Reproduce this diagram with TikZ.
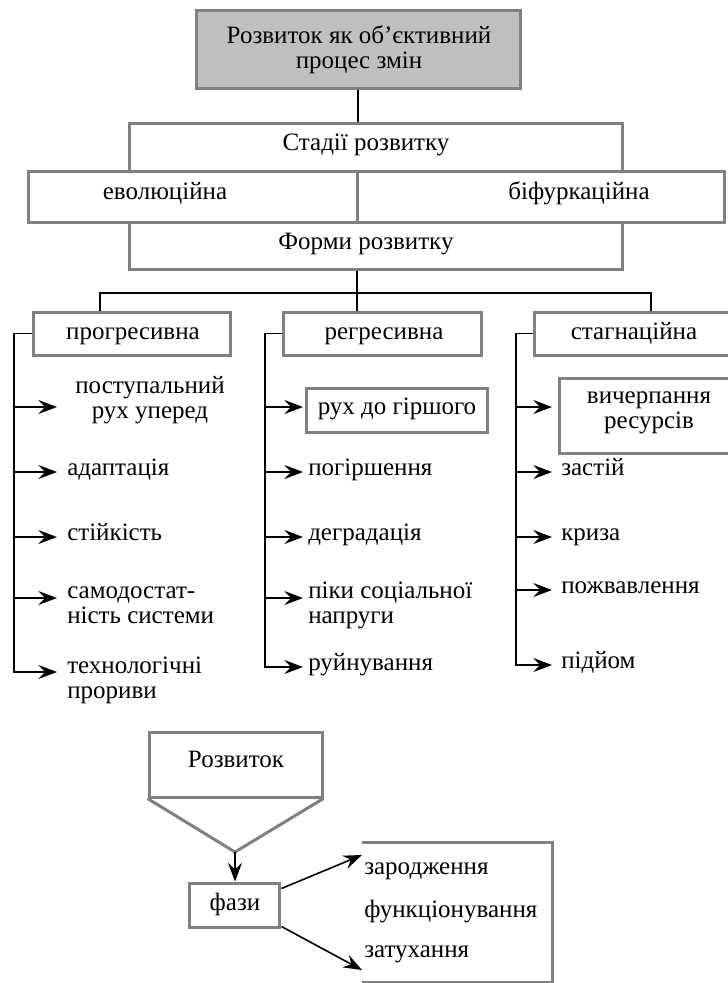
\documentclass[tikz,border=0pt]{standalone}
\usepackage{fontspec}
\setmainfont{Liberation Serif}
\usetikzlibrary{fit,arrows.meta,calc}
\definecolor{boxgray}{HTML}{808080}
\definecolor{headfill}{HTML}{C0C0C0}
\tikzset{
  gbox/.style={draw=boxgray, line width=2.25pt, fill=white, inner sep=0pt},
  gline/.style={draw=boxgray, line width=2.25pt, line join=miter},
  txt/.style={font=\fontsize{18.75}{18.75}\selectfont, inner sep=0pt},
  item/.style={txt, anchor=mid west},
  pair/.style={txt, anchor=west, align=left},
  link/.style={draw=black, line width=1.2pt},
  arr/.style={link, -{Stealth[length=14pt,width=10.5pt,inset=5pt]}},
}
\begin{document}
\begin{tikzpicture}[x=0.75pt,y=-0.75pt]
\clip (0,0) rectangle (728,983);

% ---- header and stages ----
\node[gbox, fill=headfill, fit={(196,10)(520,88)}] (top) {};
\node[txt, align=center] (topT) at (359,50) {Розвиток як об’єктивний\\процес змін};

\node[gbox, fit={(129,123)(622,171)}] (stages) {};
\node[txt, anchor=mid] (stagesT) at (366,147.5) {Стадії розвитку};

\node[gbox, fit={(28,171)(357,222)}] (evo) {};
\node[gbox, fit={(357,171)(724,222)}] (bif) {};
\node[txt, anchor=mid] (evoT) at (165,196) {еволюційна};
\node[txt, anchor=mid] (bifT) at (579,196) {біфуркаційна};

\node[gbox, fit={(129,222)(622,269)}] (forms) {};
\node[txt, anchor=mid] (formsT) at (366,246) {Форми розвитку};

\draw[link] (top.south) -- (top.south |- stages.north);

% ---- three forms ----
\node[gbox, fit={(33,312)(230,355)}] (prog) {};
\node[txt, anchor=mid] (progT) at (133,336) {прогресивна};
\node[gbox, fit={(283,312)(481,355)}] (regr) {};
\node[txt, anchor=mid] (regrT) at (384,336) {регресивна};
\node[gbox, fit={(534,312)(745,355)}] (stag) {};
\node[txt, anchor=mid] (stagT) at (634,336) {стагнаційна};

\coordinate (hub) at (357,293);
\coordinate (hubL) at (100,293);
\coordinate (hubR) at (651,293);
\draw[link] (forms.south -| hub) -- (regr.north -| hub);
\draw[link] (prog.north -| hubL) -- (hubL) -- (hubR) -- (stag.north -| hubR);

% ---- progressive branch ----
\coordinate (pbar) at (14,331);
\coordinate (p1) at (57,407);
\coordinate (p2) at (57,472);
\coordinate (p3) at (57,537);
\coordinate (p4) at (57,598);
\coordinate (p5) at (57,672);
\draw[arr] (prog.west) -| (p5 -| pbar) -- (p5);
\foreach \k in {p1,p2,p3,p4} \draw[arr] (\k -| pbar) -- (\k);
\node[txt, align=center] (pi1) at (150,400) {поступальний\\рух уперед};
\node[item] (pi2) at (67,472) {адаптація};
\node[item] (pi3) at (67,537) {стійкість};
\node[pair] (pi4) at (67,605) {самодостат-\\ність системи};
\node[pair] (pi5) at (67,680) {технологічні\\прориви};

% ---- regressive branch ----
\coordinate (rbar) at (265,331);
\coordinate (r1) at (303,407);
\coordinate (r2) at (303,472);
\coordinate (r3) at (303,537);
\coordinate (r4) at (303,598);
\coordinate (r5) at (303,667);
\draw[arr] (regr.west) -| (r5 -| rbar) -- (r5);
\foreach \k in {r1,r2,r3,r4} \draw[arr] (\k -| rbar) -- (\k);
\node[gbox, fit={(306,388)(487,432)}] (worse) {};
\node[txt, anchor=mid] (worseT) at (397,411) {рух до гіршого};
\node[item] (ri2) at (308,472) {погіршення};
\node[item] (ri3) at (308,537) {деградація};
\node[pair] (ri4) at (308,605) {піки соціальної\\напруги};
\node[item] (ri5) at (308,667) {руйнування};

% ---- stagnation branch ----
\coordinate (sbar) at (516,331);
\coordinate (s1) at (552,407);
\coordinate (s2) at (552,472);
\coordinate (s3) at (552,537);
\coordinate (s4) at (552,590);
\coordinate (s5) at (552,665);
\draw[arr] (stag.west) -| (s5 -| sbar) -- (s5);
\foreach \k in {s1,s2,s3,s4} \draw[arr] (\k -| sbar) -- (\k);
\node[gbox, fit={(559,378)(745,453)}] (exh) {};
\node[txt, align=center] (exhT) at (649,413) {вичерпання\\ресурсів};
\node[item] (si2) at (561,472) {застій};
\node[item] (si3) at (561,537) {криза};
\node[item] (si4) at (561,590) {пожвавлення};
\node[item] (si5) at (561,665) {підйом};

% ---- phases of development ----
\node[gbox, fit={(149,732)(322,797)}] (dev) {};
\node[txt, anchor=mid] (devT) at (236,764) {Розвиток};
\coordinate (apex) at (235,852);
\draw[gline] (dev.south west) -- (apex) -- (dev.south east);

\node[gbox, fit={(189,883)(279,927)}] (phase) {};
\node[txt, anchor=mid] (phaseT) at (235,907) {фази};
\draw[arr] (apex) -- (apex |- phase.north);

\coordinate (b1) at (362,842);
\coordinate (b2) at (552,842);
\coordinate (b3) at (552,982);
\coordinate (b4) at (362,982);
\draw[gline] (b1) -- (b2) -- (b3) -- (b4);

\coordinate (t1) at (362,855);
\coordinate (t2) at (362,970);
\draw[arr] ($(phase.north east)+(1,7)$) -- (t1);
\draw[arr] ($(phase.south east)+(1,-2)$) -- (t2);

\node[item] (f1) at (364,871) {зародження};
\node[item] (f2) at (364,914) {функціонування};
\node[item] (f3) at (364,954) {затухання};
\end{tikzpicture}
\end{document}
